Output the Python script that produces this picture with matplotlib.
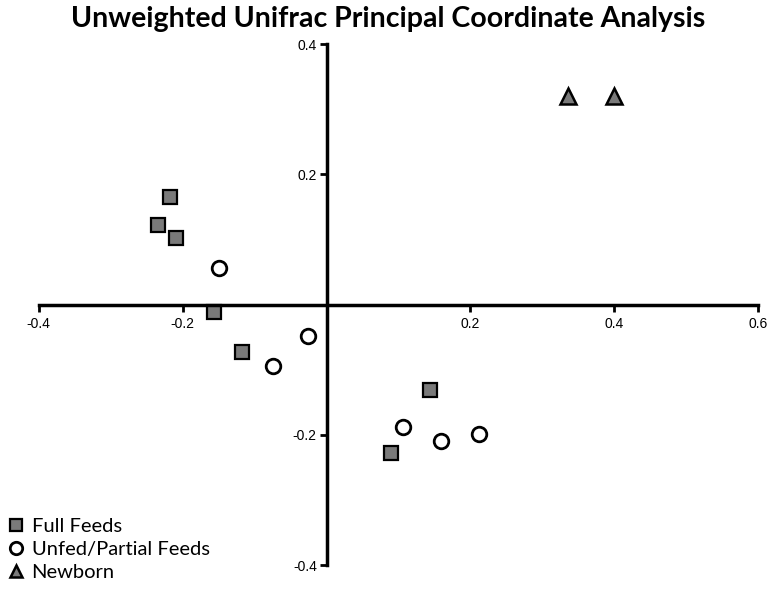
import numpy as np
import matplotlib
matplotlib.use('Agg')
import matplotlib.pyplot as plt

full_x = [-0.218, -0.234, -0.209, -0.156, -0.118, 0.144, 0.090]
full_y = [0.165, 0.122, 0.103, -0.011, -0.072, -0.131, -0.228]
unfed_x = [-0.150, -0.026, -0.075, 0.106, 0.159, 0.212]
unfed_y = [0.057, -0.048, -0.094, -0.187, -0.209, -0.198]
newborn_x = [0.335, 0.399]
newborn_y = [0.321, 0.321]

x_ticks = [-0.4, -0.2, 0.2, 0.4, 0.6]
y_ticks = [-0.4, -0.2, 0.2, 0.4]

fig = plt.figure(figsize=(7.76, 5.90), dpi=100)
ax = fig.add_axes([0.050, 0.042, 0.927, 0.883])

gray = '#7a7a7a'
ax.plot(full_x, full_y, 's', ms=9.5, mfc=gray, mec='black', mew=1.6,
        label='Full Feeds', clip_on=False)
ax.plot(unfed_x, unfed_y, 'o', ms=10.5, mfc='white', mec='black', mew=2,
        label='Unfed/Partial Feeds', clip_on=False)
ax.plot(newborn_x, newborn_y, '^', ms=11, mfc=gray, mec='black', mew=1.8,
        label='Newborn', clip_on=False)

ax.set_xlim(-0.4, 0.6)
ax.set_ylim(-0.4, 0.4)
ax.spines['left'].set_position(('data', 0))
ax.spines['bottom'].set_position(('data', 0))
ax.spines['right'].set_visible(False)
ax.spines['top'].set_visible(False)
for s in ['left', 'bottom']:
    ax.spines[s].set_linewidth(2.5)

ax.set_xticks(x_ticks)
ax.set_yticks(y_ticks)
ax.set_xticklabels([f'{v:g}' for v in x_ticks], fontfamily='Liberation Sans', fontsize=10)
ax.set_yticklabels([f'{v:g}' for v in y_ticks], fontfamily='Liberation Sans', fontsize=10)
ax.tick_params(axis='x', direction='out', length=5, width=2, pad=4)
ax.tick_params(axis='y', direction='out', length=5, width=2, pad=2)

fig.suptitle('Unweighted Unifrac Principal Coordinate Analysis',
             fontfamily='Lato', fontweight='bold', fontsize=20.5, y=0.99)

fig.legend(loc='lower left', bbox_to_anchor=(-0.01, -0.012), frameon=False,
           prop={'family': 'Lato', 'size': 14.5}, handlelength=0.8,
           handletextpad=0.35, labelspacing=0.3, borderpad=0.3,
           markerscale=0.85)

fig.savefig('out.png', dpi=100)
